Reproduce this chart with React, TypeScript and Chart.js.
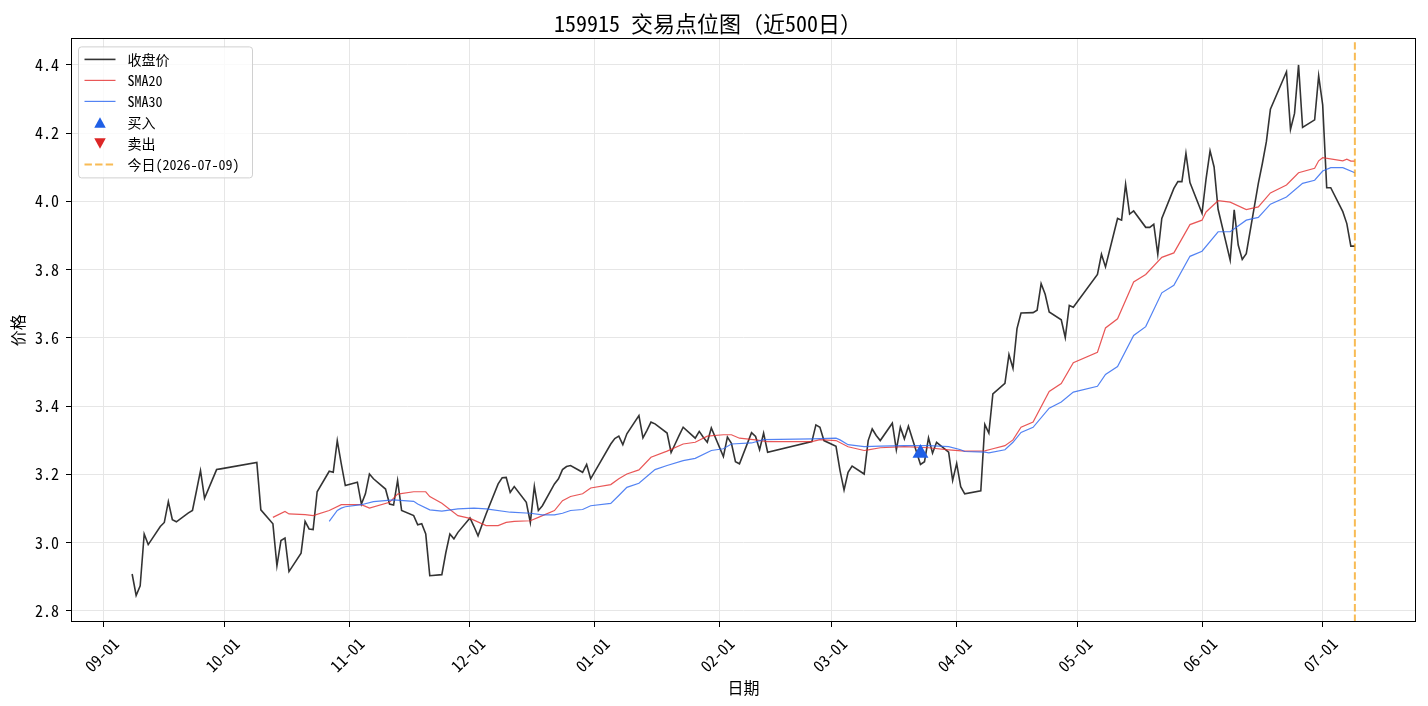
import React, { useEffect, useRef } from 'react';
import { Chart, registerables } from 'chart.js';

Chart.register(...registerables);

const FONT = "'Noto Sans Mono CJK SC', 'Noto Sans CJK SC', 'DejaVu Sans Mono', sans-serif";

const TITLE = '159915 交易点位图（近500日）';
const X_TITLE = '日期';
const Y_TITLE = '价格';

const closeDates = [
  '2025-09-08', '2025-09-09', '2025-09-10', '2025-09-11', '2025-09-12', '2025-09-15', '2025-09-16', '2025-09-17', '2025-09-18', '2025-09-19',
  '2025-09-22', '2025-09-23', '2025-09-24', '2025-09-25', '2025-09-26', '2025-09-29', '2025-09-30',
  '2025-10-09', '2025-10-10', '2025-10-13', '2025-10-14', '2025-10-15', '2025-10-16', '2025-10-17', '2025-10-20', '2025-10-21', '2025-10-22',
  '2025-10-23', '2025-10-24', '2025-10-27', '2025-10-28', '2025-10-29', '2025-10-30', '2025-10-31',
  '2025-11-03', '2025-11-04', '2025-11-05', '2025-11-06', '2025-11-07', '2025-11-10', '2025-11-11', '2025-11-12', '2025-11-13', '2025-11-14',
  '2025-11-17', '2025-11-18', '2025-11-19', '2025-11-20', '2025-11-21', '2025-11-24', '2025-11-25', '2025-11-26', '2025-11-27', '2025-11-28',
  '2025-12-01', '2025-12-02', '2025-12-03', '2025-12-04', '2025-12-05', '2025-12-08', '2025-12-09', '2025-12-10', '2025-12-11', '2025-12-12',
  '2025-12-15', '2025-12-16', '2025-12-17', '2025-12-18', '2025-12-19', '2025-12-22', '2025-12-23', '2025-12-24', '2025-12-25', '2025-12-26',
  '2025-12-29', '2025-12-30', '2025-12-31',
  '2026-01-05', '2026-01-06', '2026-01-07', '2026-01-08', '2026-01-09', '2026-01-12', '2026-01-13', '2026-01-14', '2026-01-15', '2026-01-16',
  '2026-01-19', '2026-01-20', '2026-01-21', '2026-01-22', '2026-01-23', '2026-01-26', '2026-01-27', '2026-01-28', '2026-01-29', '2026-01-30',
  '2026-02-02', '2026-02-03', '2026-02-04', '2026-02-05', '2026-02-06', '2026-02-09', '2026-02-10', '2026-02-11', '2026-02-12', '2026-02-13',
  '2026-02-24', '2026-02-25', '2026-02-26', '2026-02-27',
  '2026-03-02', '2026-03-03', '2026-03-04', '2026-03-05', '2026-03-06', '2026-03-09', '2026-03-10', '2026-03-11', '2026-03-12', '2026-03-13',
  '2026-03-16', '2026-03-17', '2026-03-18', '2026-03-19', '2026-03-20', '2026-03-23', '2026-03-24', '2026-03-25', '2026-03-26', '2026-03-27',
  '2026-03-30', '2026-03-31',
  '2026-04-01', '2026-04-02', '2026-04-03', '2026-04-07', '2026-04-08', '2026-04-09', '2026-04-10', '2026-04-13', '2026-04-14', '2026-04-15',
  '2026-04-16', '2026-04-17', '2026-04-20', '2026-04-21', '2026-04-22', '2026-04-23', '2026-04-24', '2026-04-27', '2026-04-28', '2026-04-29',
  '2026-04-30',
  '2026-05-06', '2026-05-07', '2026-05-08', '2026-05-11', '2026-05-12', '2026-05-13', '2026-05-14', '2026-05-15', '2026-05-18', '2026-05-19',
  '2026-05-20', '2026-05-21', '2026-05-22', '2026-05-25', '2026-05-26', '2026-05-27', '2026-05-28', '2026-05-29',
  '2026-06-01', '2026-06-02', '2026-06-03', '2026-06-04', '2026-06-05', '2026-06-08', '2026-06-09', '2026-06-10', '2026-06-11', '2026-06-12',
  '2026-06-15', '2026-06-16', '2026-06-17', '2026-06-18', '2026-06-22', '2026-06-23', '2026-06-24', '2026-06-25', '2026-06-26', '2026-06-29',
  '2026-06-30',
  '2026-07-01', '2026-07-02', '2026-07-03', '2026-07-06', '2026-07-07', '2026-07-08', '2026-07-09',
];

const closeValues = [
  2.908, 2.845, 2.873, 3.025, 2.994, 3.047, 3.059, 3.120, 3.067, 3.061,
  3.087, 3.094, 3.152, 3.211, 3.130, 3.214, 3.216,
  3.235, 3.096, 3.055, 2.932, 3.006, 3.013, 2.915, 2.969, 3.062, 3.040,
  3.038, 3.149, 3.209, 3.206, 3.299, 3.231, 3.167,
  3.177, 3.113, 3.143, 3.201, 3.187, 3.157, 3.113, 3.110, 3.182, 3.094,
  3.079, 3.052, 3.055, 3.025, 2.903, 2.906, 2.971, 3.025, 3.011, 3.030,
  3.072, 3.047, 3.020, 3.052, 3.084, 3.172, 3.190, 3.191, 3.147, 3.164,
  3.118, 3.059, 3.165, 3.094, 3.108, 3.172, 3.187, 3.214, 3.223, 3.226,
  3.206, 3.229, 3.187,
  3.289, 3.305, 3.312, 3.287, 3.319, 3.372, 3.307, 3.329, 3.353, 3.348,
  3.321, 3.264, 3.289, 3.314, 3.338, 3.306, 3.326, 3.309, 3.294, 3.336,
  3.252, 3.309, 3.291, 3.237, 3.231, 3.322, 3.311, 3.272, 3.321, 3.265,
  3.296, 3.345, 3.338, 3.299,
  3.282, 3.211, 3.154, 3.206, 3.224, 3.201, 3.299, 3.333, 3.314, 3.299,
  3.350, 3.272, 3.338, 3.304, 3.341, 3.229, 3.237, 3.307, 3.262, 3.294,
  3.265, 3.182,
  3.232, 3.164, 3.143, 3.152, 3.346, 3.321, 3.436, 3.467, 3.551, 3.511,
  3.627, 3.673, 3.674, 3.681, 3.759, 3.728, 3.676, 3.653, 3.601, 3.695,
  3.690,
  3.786, 3.845, 3.808, 3.950, 3.945, 4.050, 3.963, 3.972, 3.924, 3.924,
  3.933, 3.845, 3.950, 4.038, 4.058, 4.058, 4.141, 4.055,
  3.965, 4.065, 4.148, 4.101, 3.977, 3.828, 3.975, 3.872, 3.830, 3.847,
  4.053, 4.111, 4.175, 4.270, 4.380, 4.211, 4.258, 4.400, 4.217, 4.239,
  4.368,
  4.283, 4.040, 4.040, 3.970, 3.935, 3.869, 3.869,
];

const sma20Dates = [
  '2025-10-13', '2025-10-16', '2025-10-17', '2025-10-21', '2025-10-23', '2025-10-27', '2025-10-30', '2025-11-04', '2025-11-06', '2025-11-11',
  '2025-11-13', '2025-11-17', '2025-11-20', '2025-11-21', '2025-11-24', '2025-11-28', '2025-12-01', '2025-12-05', '2025-12-08', '2025-12-10',
  '2025-12-12', '2025-12-16', '2025-12-18', '2025-12-22', '2025-12-24', '2025-12-26', '2025-12-29', '2025-12-31', '2026-01-05', '2026-01-07',
  '2026-01-09', '2026-01-12', '2026-01-15', '2026-01-19', '2026-01-23', '2026-01-26', '2026-01-29', '2026-02-02', '2026-02-04', '2026-02-06',
  '2026-02-10', '2026-02-13', '2026-02-24', '2026-02-26', '2026-03-02', '2026-03-05', '2026-03-09', '2026-03-10', '2026-03-13', '2026-03-19',
  '2026-03-25', '2026-03-30', '2026-04-03', '2026-04-08', '2026-04-10', '2026-04-13', '2026-04-15', '2026-04-17', '2026-04-20', '2026-04-24',
  '2026-04-27', '2026-04-30', '2026-05-06', '2026-05-08', '2026-05-11', '2026-05-15', '2026-05-18', '2026-05-22', '2026-05-25', '2026-05-29',
  '2026-06-01', '2026-06-02', '2026-06-05', '2026-06-08', '2026-06-12', '2026-06-15', '2026-06-18', '2026-06-22', '2026-06-25', '2026-06-29',
  '2026-06-30', '2026-07-01', '2026-07-06', '2026-07-07', '2026-07-08', '2026-07-09',
];
const sma20Values = [
  3.074, 3.091, 3.084, 3.082, 3.079, 3.094, 3.111, 3.111, 3.101, 3.118,
  3.142, 3.149, 3.149, 3.135, 3.115, 3.079, 3.071, 3.050, 3.050, 3.059,
  3.062, 3.064, 3.074, 3.094, 3.123, 3.135, 3.143, 3.160, 3.170, 3.187,
  3.201, 3.213, 3.250, 3.268, 3.289, 3.294, 3.312, 3.316, 3.316, 3.306,
  3.301, 3.296, 3.296, 3.302, 3.299, 3.281, 3.270, 3.272, 3.278, 3.281,
  3.278, 3.272, 3.268, 3.269, 3.275, 3.284, 3.301, 3.338, 3.353, 3.443,
  3.466, 3.527, 3.558, 3.629, 3.656, 3.764, 3.786, 3.836, 3.849, 3.932,
  3.945, 3.969, 4.002, 3.998, 3.976, 3.984, 4.025, 4.048, 4.084, 4.097,
  4.119, 4.128, 4.119, 4.124, 4.118, 4.118,
];

const sma30Dates = [
  '2025-10-27', '2025-10-29', '2025-10-30', '2025-10-31', '2025-11-04', '2025-11-07', '2025-11-12', '2025-11-17', '2025-11-18', '2025-11-21',
  '2025-11-24', '2025-11-28', '2025-12-02', '2025-12-05', '2025-12-11', '2025-12-16', '2025-12-19', '2025-12-22', '2025-12-24', '2025-12-26',
  '2025-12-29', '2025-12-31', '2026-01-05', '2026-01-07', '2026-01-09', '2026-01-12', '2026-01-16', '2026-01-19', '2026-01-23', '2026-01-26',
  '2026-01-30', '2026-02-02', '2026-02-04', '2026-02-09', '2026-02-12', '2026-02-24', '2026-03-02', '2026-03-03', '2026-03-05', '2026-03-09',
  '2026-03-13', '2026-03-19', '2026-03-25', '2026-03-30', '2026-04-02', '2026-04-03', '2026-04-08', '2026-04-09', '2026-04-13', '2026-04-15',
  '2026-04-17', '2026-04-20', '2026-04-24', '2026-04-27', '2026-04-30', '2026-05-06', '2026-05-08', '2026-05-11', '2026-05-15', '2026-05-18',
  '2026-05-22', '2026-05-25', '2026-05-29', '2026-06-01', '2026-06-05', '2026-06-08', '2026-06-12', '2026-06-15', '2026-06-18', '2026-06-22',
  '2026-06-26', '2026-06-29', '2026-07-01', '2026-07-03', '2026-07-06', '2026-07-09',
];
const sma30Values = [
  3.062, 3.094, 3.101, 3.105, 3.111, 3.120, 3.125, 3.121, 3.113, 3.096,
  3.092, 3.099, 3.101, 3.099, 3.089, 3.086, 3.081, 3.081, 3.086, 3.094,
  3.097, 3.108, 3.115, 3.138, 3.162, 3.174, 3.214, 3.226, 3.240, 3.247,
  3.270, 3.275, 3.289, 3.292, 3.302, 3.304, 3.306, 3.301, 3.287, 3.281,
  3.283, 3.284, 3.284, 3.281, 3.272, 3.267, 3.265, 3.263, 3.272, 3.294,
  3.323, 3.338, 3.394, 3.412, 3.441, 3.458, 3.493, 3.516, 3.607, 3.633,
  3.732, 3.754, 3.839, 3.854, 3.911, 3.911, 3.945, 3.953, 3.992, 4.013,
  4.053, 4.062, 4.089, 4.099, 4.099, 4.084,
];

const buyDates = ['2026-03-23'];
const buyValues = [3.262];
const sellDates: string[] = [];
const sellValues: number[] = [];
const todayDate = '2026-07-09';

const monthTicks = [
  '2025-09-01', '2025-10-01', '2025-11-01', '2025-12-01', '2026-01-01', '2026-02-01',
  '2026-03-01', '2026-04-01', '2026-05-01', '2026-06-01', '2026-07-01',
];
const monthTickLabels = ['09-01', '10-01', '11-01', '12-01', '01-01', '02-01', '03-01', '04-01', '05-01', '06-01', '07-01'];
const yTickValues = [2.8, 3.0, 3.2, 3.4, 3.6, 3.8, 4.0, 4.2, 4.4];

const seriesLabels = ['收盘价', 'SMA20', 'SMA30', '买入', '卖出', '今日(2026-07-09)'];

const ORIGIN = Date.parse('2025-09-01T00:00:00Z');
const toDay = (s: string) => (Date.parse(s + 'T00:00:00Z') - ORIGIN) / 86400000;
const toPoints = (dates: string[], vals: number[]) => dates.map((d, i) => ({ x: toDay(d), y: vals[i] }));

const xFirst = toDay(closeDates[0]);
const xLast = Math.max(toDay(closeDates[closeDates.length - 1]), toDay(todayDate));
const xMargin = (xLast - xFirst) * 0.05;
const allY = [...closeValues, ...sma20Values, ...sma30Values, ...buyValues, ...sellValues];
const yLo = Math.min(...allY);
const yHi = Math.max(...allY);
const yMargin = (yHi - yLo) * 0.05;
const X_MIN = xFirst - xMargin;
const X_MAX = xLast + xMargin;
const Y_MIN = yLo - yMargin;
const Y_MAX = yHi + yMargin;

const legendAndFrame = {
  id: 'legendAndFrame',
  afterDraw(chart: any) {
    const ctx = chart.ctx as CanvasRenderingContext2D;
    const a = chart.chartArea;
    ctx.save();
    ctx.strokeStyle = '#000';
    ctx.lineWidth = 1;
    ctx.setLineDash([]);
    const l = Math.round(a.left) + 0.5;
    const t = Math.round(a.top) + 0.5;
    const r = Math.round(a.right) - 0.5;
    const b = Math.round(a.bottom) - 0.5;
    ctx.strokeRect(l, t, r - l, b - t);

    const ds = chart.data.datasets;
    ctx.font = `14px ${FONT}`;
    let tw = 0;
    ds.forEach((d: any) => { tw = Math.max(tw, ctx.measureText(d.label).width); });
    const bx = a.left + 7.5;
    const by = a.top + 8.5;
    const rowH = 21;
    const bw = 49 + tw + 13;
    const bh = 12 + rowH * (ds.length - 1) + 14;
    const rad = 3;
    ctx.beginPath();
    ctx.moveTo(bx + rad, by);
    ctx.lineTo(bx + bw - rad, by);
    ctx.quadraticCurveTo(bx + bw, by, bx + bw, by + rad);
    ctx.lineTo(bx + bw, by + bh - rad);
    ctx.quadraticCurveTo(bx + bw, by + bh, bx + bw - rad, by + bh);
    ctx.lineTo(bx + rad, by + bh);
    ctx.quadraticCurveTo(bx, by + bh, bx, by + bh - rad);
    ctx.lineTo(bx, by + rad);
    ctx.quadraticCurveTo(bx, by, bx + rad, by);
    ctx.closePath();
    ctx.fillStyle = 'rgba(255,255,255,0.8)';
    ctx.fill();
    ctx.strokeStyle = '#d0d0d0';
    ctx.lineWidth = 1;
    ctx.stroke();

    ds.forEach((d: any, i: number) => {
      const cy = by + 12.5 + i * rowH;
      if (d.showLine === false) {
        const cx = bx + 21.5;
        const w = 11.5;
        const h = 10.5;
        ctx.beginPath();
        if (d.rotation === 180) {
          ctx.moveTo(cx, cy + h / 2);
          ctx.lineTo(cx - w / 2, cy - h / 2);
          ctx.lineTo(cx + w / 2, cy - h / 2);
        } else {
          ctx.moveTo(cx, cy - h / 2);
          ctx.lineTo(cx - w / 2, cy + h / 2);
          ctx.lineTo(cx + w / 2, cy + h / 2);
        }
        ctx.closePath();
        ctx.fillStyle = d.backgroundColor;
        ctx.fill();
      } else {
        ctx.beginPath();
        ctx.setLineDash(d.borderDash || []);
        ctx.strokeStyle = d.borderColor;
        ctx.lineWidth = d.borderWidth;
        ctx.moveTo(bx + 6, cy);
        ctx.lineTo(bx + 37, cy);
        ctx.stroke();
        ctx.setLineDash([]);
      }
      ctx.fillStyle = '#000';
      ctx.textBaseline = 'middle';
      ctx.textAlign = 'left';
      ctx.fillText(d.label, bx + 49, cy + 0.5);
    });
    ctx.restore();
  },
};

export default function App() {
  const ref = useRef<HTMLCanvasElement | null>(null);

  useEffect(() => {
    document.body.style.margin = '0';
    const canvas = ref.current;
    if (!canvas) return;
    Chart.defaults.font.family = FONT;
    Chart.defaults.color = '#000';

    const chart = new Chart(canvas, {
      type: 'line',
      data: {
        datasets: [
          {
            label: seriesLabels[0],
            data: toPoints(closeDates, closeValues),
            borderColor: 'rgba(0,0,0,0.8)',
            borderWidth: 1.6,
            pointRadius: 0,
            tension: 0,
            order: 6,
          },
          {
            label: seriesLabels[1],
            data: toPoints(sma20Dates, sma20Values),
            borderColor: 'rgba(228,45,45,0.8)',
            borderWidth: 1.2,
            pointRadius: 0,
            tension: 0,
            order: 5,
          },
          {
            label: seriesLabels[2],
            data: toPoints(sma30Dates, sma30Values),
            borderColor: 'rgba(40,100,240,0.8)',
            borderWidth: 1.2,
            pointRadius: 0,
            tension: 0,
            order: 4,
          },
          {
            label: seriesLabels[3],
            data: toPoints(buyDates, buyValues),
            showLine: false,
            pointStyle: 'triangle',
            pointRadius: 9.2,
            pointBackgroundColor: '#1f5fe6',
            backgroundColor: '#1f5fe6',
            pointBorderWidth: 0,
            borderColor: '#1f5fe6',
            order: 2,
          },
          {
            label: seriesLabels[4],
            data: toPoints(sellDates, sellValues),
            showLine: false,
            pointStyle: 'triangle',
            rotation: 180,
            pointRadius: 9.2,
            pointBackgroundColor: '#dc2626',
            backgroundColor: '#dc2626',
            pointBorderWidth: 0,
            borderColor: '#dc2626',
            order: 1,
          },
          {
            label: seriesLabels[5],
            data: [
              { x: toDay(todayDate), y: Y_MIN },
              { x: toDay(todayDate), y: Y_MAX },
            ],
            borderColor: 'rgba(245,158,11,0.7)',
            borderWidth: 2,
            borderDash: [7.4, 3.2],
            pointRadius: 0,
            order: 3,
          },
        ] as any,
      },
      options: {
        animation: false,
        responsive: false,
        devicePixelRatio: 1,
        layout: { padding: { left: 0, right: 12, top: 0, bottom: 0 }, autoPadding: false },
        plugins: {
          legend: { display: false },
          tooltip: { enabled: false },
          title: {
            display: true,
            text: TITLE,
            color: '#000',
            font: { family: FONT, size: 22, weight: 'normal', lineHeight: 1.2 },
            padding: { top: 10, bottom: 2 },
          },
        },
        scales: {
          x: {
            type: 'linear',
            min: X_MIN,
            max: X_MAX,
            afterBuildTicks: (scale: any) => {
              scale.ticks = monthTicks.map((d) => ({ value: toDay(d) }));
            },
            afterFit: (scale: any) => {
              scale.height = 84;
            },
            ticks: {
              autoSkip: false,
              minRotation: 45,
              maxRotation: 45,
              labelOffset: 12,
              padding: 7,
              color: '#000',
              font: { family: FONT, size: 16 },
              callback: (_v: any, i: number) => monthTickLabels[i],
            },
            grid: {
              color: '#e6e6e6',
              lineWidth: 1,
              drawTicks: true,
              tickLength: 5,
              tickColor: '#000',
              tickWidth: 1,
            },
            border: { display: false },
            title: {
              display: true,
              text: X_TITLE,
              color: '#000',
              font: { family: FONT, size: 16 },
              padding: { top: 0, bottom: 8.4 },
            },
          },
          y: {
            type: 'linear',
            min: Y_MIN,
            max: Y_MAX,
            afterBuildTicks: (scale: any) => {
              scale.ticks = yTickValues.map((v) => ({ value: v }));
            },
            afterFit: (scale: any) => {
              scale.width = 71;
            },
            ticks: {
              padding: 7,
              color: '#000',
              font: { family: FONT, size: 16 },
              callback: (v: any) => Number(v).toFixed(1),
            },
            grid: {
              color: '#e6e6e6',
              lineWidth: 1,
              drawTicks: true,
              tickLength: 5,
              tickColor: '#000',
              tickWidth: 1,
            },
            border: { display: false },
            title: {
              display: true,
              text: Y_TITLE,
              color: '#000',
              font: { family: FONT, size: 16 },
              padding: { top: 8, bottom: 0 },
            },
          },
        },
      },
      plugins: [legendAndFrame],
    });

    return () => chart.destroy();
  }, []);

  return (
    <div style={{ width: 1428, height: 706 }}>
      <canvas ref={ref} width={1428} height={706} style={{ display: 'block' }} />
    </div>
  );
}
